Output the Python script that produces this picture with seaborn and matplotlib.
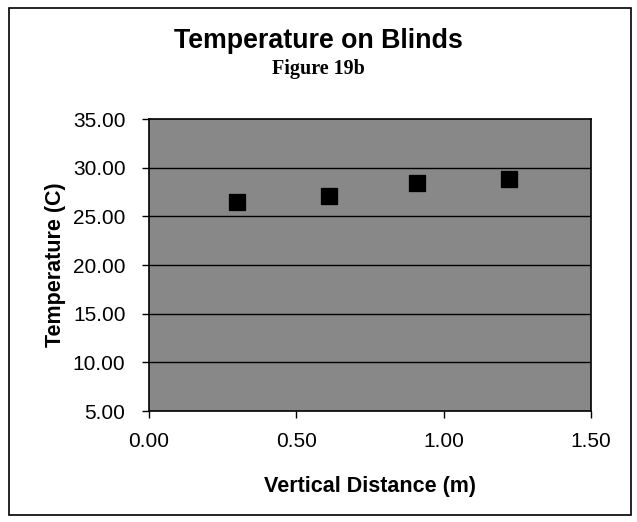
import matplotlib
matplotlib.use("Agg")
import matplotlib.pyplot as plt
import seaborn as sns
import pandas as pd
from matplotlib.patches import Rectangle

distance = [0.30, 0.61, 0.91, 1.22]
temperature = [26.45, 27.05, 28.45, 28.85]
y_ticks = [5, 10, 15, 20, 25, 30, 35]
x_ticks = [0.0, 0.5, 1.0, 1.5]

sns.set_theme(style="white")
plt.rcParams['font.family'] = ['Liberation Sans', 'DejaVu Sans']
plt.rcParams['text.color'] = 'black'
plt.rcParams['axes.labelcolor'] = 'black'
plt.rcParams['xtick.color'] = 'black'
plt.rcParams['ytick.color'] = 'black'

df = pd.DataFrame({"Vertical Distance (m)": distance, "Temperature (C)": temperature})

fig = plt.figure(figsize=(6.37, 5.22), dpi=100)
ax = fig.add_axes([0.234, 0.2126, 0.694, 0.5594])
ax.set_facecolor("#888888")

for yv in y_ticks[1:-1]:
    ax.axhline(yv, color="black", linewidth=1.0, zorder=1)

sns.scatterplot(data=df, x="Vertical Distance (m)", y="Temperature (C)", ax=ax,
                marker="s", s=135, color="black", edgecolor="black", zorder=3)

ax.set_xlim(0, 1.5)
ax.set_ylim(5, 35)
ax.set_xticks(x_ticks)
ax.set_yticks(y_ticks)
ax.set_xticklabels([f"{v:.2f}" for v in x_ticks], fontsize=15)
ax.set_yticklabels([f"{v:.2f}" for v in y_ticks], fontsize=15)
ax.tick_params(axis="both", direction="out", length=5, width=1, color="black",
               labelcolor="black", bottom=True, left=True)
ax.tick_params(axis="y", pad=12)
ax.tick_params(axis="x", pad=10)
for sp in ax.spines.values():
    sp.set_color("black")
    sp.set_linewidth(1.2)
ax.set_xlabel("Vertical Distance (m)", fontsize=15.5, fontweight="bold", labelpad=18,
              color="black")
ax.set_ylabel("Temperature (C)", fontsize=15.5, fontweight="bold", labelpad=5,
              color="black")

fig.text(0.5, 1 - 41 / 522, "Temperature on Blinds", ha="center", va="center",
         fontsize=19.3, fontweight="bold", color="black")
fig.text(0.5, 1 - 69 / 522, "Figure 19b", ha="center", va="center",
         fontsize=14.5, fontweight="bold", color="black",
         family=["Liberation Serif", "DejaVu Serif"])

fig.patches.append(Rectangle((9 / 637, 7 / 522), 1 - 15 / 637, 1 - 15 / 522,
                             transform=fig.transFigure, fill=False,
                             edgecolor="black", linewidth=1.2))

fig.savefig("out.png", dpi=100, facecolor="white")
